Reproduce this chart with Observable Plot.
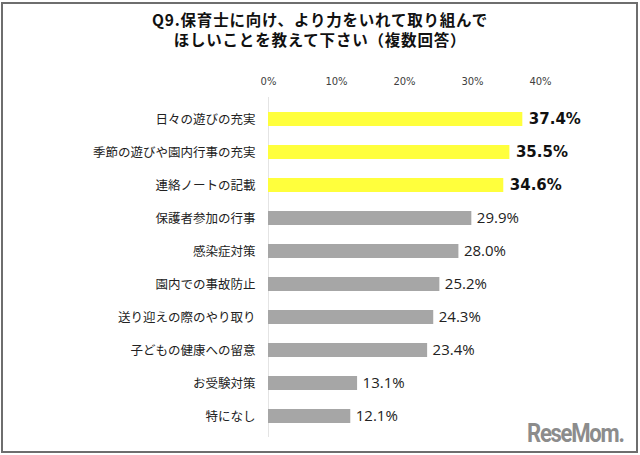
<!DOCTYPE html>
<html>
<head>
<meta charset="utf-8">
<script src="https://cdn.jsdelivr.net/npm/d3@7"></script>
<script src="https://cdn.jsdelivr.net/npm/@observablehq/plot@0.6"></script>
<style>
  html, body { margin: 0; padding: 0; background: #fff; }
  #page { position: relative; width: 640px; height: 455px; overflow: hidden; }
  #frame { position: absolute; left: 1px; top: 2px; width: 637px; height: 451px; box-sizing: border-box; border: 2px solid #6e6e6e; pointer-events: none; }
  .title { position: absolute; left: 0; width: 640px; height: 20px; text-align: center; font: bold 15.5px "Noto Sans CJK JP", sans-serif; letter-spacing: 0.8px; line-height: 20px; color: #111; white-space: nowrap; }
  #t1 { top: 9px; }
  #t2 { top: 29px; }
  #chart { position: absolute; left: 0; top: 55px; }
  #logo { position: absolute; left: 527px; top: 418px; font: bold 26px "Roboto", sans-serif; letter-spacing: -1.5px; color: #8c8c8c; transform: scaleX(0.85); transform-origin: left top; }
</style>
</head>
<body>
<div id="page">
  <div class="title" id="t1">Q9.保育士に向け、より力をいれて取り組んで</div>
  <div class="title" id="t2">ほしいことを教えて下さい（複数回答）</div>
  <div id="chart"></div>
  <div id="logo">ReseMom.</div>
  <div id="frame"></div>
</div>
<script>
const categories = [
  "日々の遊びの充実",
  "季節の遊びや園内行事の充実",
  "連絡ノートの記載",
  "保護者参加の行事",
  "感染症対策",
  "園内での事故防止",
  "送り迎えの際のやり取り",
  "子どもの健康への留意",
  "お受験対策",
  "特になし"
];
const values = [37.4, 35.5, 34.6, 29.9, 28.0, 25.2, 24.3, 23.4, 13.1, 12.1];
const highlighted = ["日々の遊びの充実", "季節の遊びや園内行事の充実", "連絡ノートの記載"];
const xTicks = [0, 10, 20, 30, 40];

const data = categories.map((c, i) => ({category: c, value: values[i], group: highlighted.includes(c) ? "hi" : "lo"}));
const hi = data.filter(d => d.group === "hi");
const lo = data.filter(d => d.group === "lo");

const chart = Plot.plot({
  width: 640,
  height: 395,
  marginTop: 42,
  marginBottom: 13,
  marginLeft: 268,
  marginRight: 100,
  style: {background: "transparent", fontFamily: "'Noto Sans CJK JP', sans-serif"},
  x: {domain: [0, 40]},
  y: {domain: categories, paddingInner: 0.586, paddingOuter: 0.32},
  color: {domain: ["hi", "lo"], range: ["#ffff3c", "#a6a6a6"]},
  marks: [
    Plot.axisX({anchor: "top", ticks: xTicks, tickFormat: d => d + "%", tickSize: 0, tickPadding: 13, fontSize: 10, fontFamily: "'DejaVu Sans', sans-serif", fill: "#404040", label: null}),
    Plot.axisY({tickSize: 0, tickPadding: 13, fontSize: 12.5, fontFamily: "'Noto Sans CJK JP', sans-serif", fill: "#222", label: null}),
    Plot.ruleX([0], {stroke: "#e4e4e4", strokeWidth: 1}),
    Plot.barX(data, {x: "value", y: "category", fill: "group"}),
    Plot.text(hi, {x: "value", y: "category", text: d => d.value.toFixed(1) + "%", dx: 6, textAnchor: "start", fontWeight: "bold", fontSize: 15, fontFamily: "'DejaVu Sans', sans-serif", fill: "#111"}),
    Plot.text(lo, {x: "value", y: "category", text: d => d.value.toFixed(1) + "%", dx: 5, textAnchor: "start", fontSize: 15, fontFamily: "'Open Sans', sans-serif", fill: "#222"})
  ]
});
document.getElementById("chart").appendChild(chart);
</script>
</body>
</html>
